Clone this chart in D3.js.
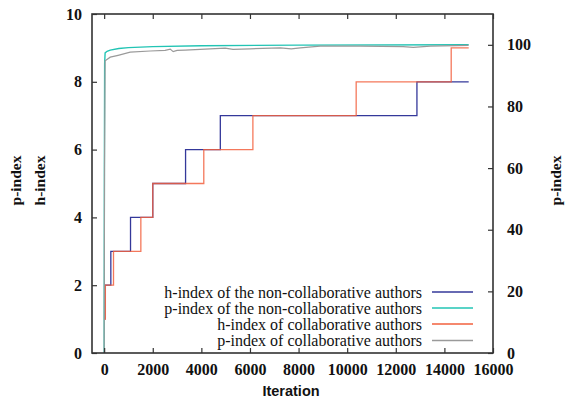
<!DOCTYPE html>
<html>
<head>
<meta charset="utf-8">
<script src="https://cdnjs.cloudflare.com/ajax/libs/d3/7.8.5/d3.min.js"></script>
<style>
  html, body { margin: 0; padding: 0; background: #fff; }
</style>
</head>
<body>
<div id="chart"></div>
<script>
// ### Data ###
var xTicks = [0, 2000, 4000, 6000, 8000, 10000, 12000, 14000, 16000];
var yTicks = [0, 2, 4, 6, 8, 10];
var y2Ticks = [0, 20, 40, 60, 80, 100];

// h-index steps: [iteration, value]
var hNonCollab = [[0, 1], [30, 2], [275, 3], [1085, 4], [2000, 5], [3350, 6], [4780, 7], [12870, 8], [15000, 8]];
var hCollab    = [[0, 1], [50, 2], [385, 3], [1510, 4], [2000, 5], [4100, 6], [6120, 7], [10370, 8], [14280, 9], [15000, 9]];

// p-index curves (right axis)
var pNonCollab = [[0, 0], [10, 60], [20, 94], [40, 97.4], [120, 97.9], [250, 98.3], [600, 98.8], [1000, 99.1],
                  [2000, 99.4], [4000, 99.7], [8000, 99.9], [15000, 100]];
var pCollab    = [[0, 0], [15, 60], [40, 94.8], [250, 96.0], [575, 96.6], [1070, 97.6], [1890, 98.0], [2510, 98.2],
                  [2720, 98.6], [2840, 97.8], [3000, 98.2], [3330, 98.3], [3950, 98.5], [4980, 98.9], [5300, 98.5],
                  [6010, 98.7], [7250, 99.0], [7700, 98.7], [8070, 99.0], [8890, 99.6], [10540, 99.6], [12300, 99.4],
                  [12720, 99.2], [13420, 99.6], [14990, 99.8]];

var legendLabels = [
  "h-index of the non-collaborative authors",
  "p-index of the non-collaborative authors",
  "h-index of collaborative authors",
  "p-index of collaborative authors"
];
var seriesColors = ["#34389a", "#22c4b4", "#f2603e", "#9a9a9a"];

// ### Layout ###
var W = 567, H = 399;
var plot = {left: 92, right: 493, top: 14, bottom: 353};
var serif = "'Liberation Serif', 'Times New Roman', serif";

var svg = d3.select("#chart").append("svg")
    .attr("width", W)
    .attr("height", H);

var x = d3.scaleLinear().domain([-500, 16000]).range([plot.left, plot.right]);
var y = d3.scaleLinear().domain([0, 10]).range([plot.bottom, plot.top]);
var y2 = d3.scaleLinear().domain([0, 110]).range([plot.bottom, plot.top]);

var stepLine = function(scaleY) {
  return d3.line()
    .x(function(d) { return x(d[0]); })
    .y(function(d) { return scaleY(d[1]); })
    .curve(d3.curveStepAfter);
};
var plainLine = function(scaleY) {
  return d3.line()
    .x(function(d) { return x(d[0]); })
    .y(function(d) { return scaleY(d[1]); });
};

// Series
var lines = svg.append("g").attr("class", "series").attr("fill", "none");

lines.append("path").datum(hNonCollab)
    .attr("d", stepLine(y))
    .attr("stroke", seriesColors[0])
    .attr("stroke-width", 1.3);

lines.append("path").datum(pNonCollab)
    .attr("d", plainLine(y2))
    .attr("stroke", seriesColors[1])
    .attr("stroke-width", 1.4);

lines.append("path").datum(hCollab)
    .attr("d", stepLine(y))
    .attr("stroke", seriesColors[2])
    .attr("stroke-width", 1.3)
    .attr("opacity", 0.85);

lines.append("path").datum(pCollab)
    .attr("d", plainLine(y2))
    .attr("stroke", seriesColors[3])
    .attr("stroke-width", 1.2);

// Axes (gnuplot style: ticks inward, mirrored x)
var tickLen = 5;
var axisColor = "#333";

var xBottom = d3.axisBottom(x).tickValues(xTicks).tickSize(-tickLen).tickPadding(11).tickFormat(d3.format("d"));
var xTop = d3.axisTop(x).tickValues(xTicks).tickSize(-tickLen).tickFormat("");
var yLeft = d3.axisLeft(y).tickValues(yTicks).tickSize(-tickLen).tickPadding(10).tickFormat(d3.format("d"));
var yRight = d3.axisRight(y2).tickValues(y2Ticks).tickSize(-tickLen).tickPadding(14).tickFormat(d3.format("d"));

var gx = svg.append("g").attr("transform", "translate(0," + plot.bottom + ")").call(xBottom);
var gxt = svg.append("g").attr("transform", "translate(0," + plot.top + ")").call(xTop);
var gy = svg.append("g").attr("transform", "translate(" + plot.left + ",0)").call(yLeft);
var gy2 = svg.append("g").attr("transform", "translate(" + plot.right + ",0)").call(yRight);

[gx, gxt, gy, gy2].forEach(function(g) {
  g.select(".domain").remove();
  g.selectAll(".tick line").attr("stroke", axisColor).attr("stroke-width", 1.2);
  g.selectAll(".tick text")
    .style("font-family", serif)
    .style("font-size", "16px")
    .style("font-weight", "bold")
    .attr("fill", "#111");
});

// Frame
svg.append("rect")
    .attr("x", plot.left)
    .attr("y", plot.top)
    .attr("width", plot.right - plot.left)
    .attr("height", plot.bottom - plot.top)
    .attr("fill", "none")
    .attr("stroke", axisColor)
    .attr("stroke-width", 1.6);

// Axis titles
var midY = (plot.top + plot.bottom) / 2;
var axisTitle = function(tx, ty, txt) {
  svg.append("text")
      .attr("transform", "translate(" + tx + "," + ty + ") rotate(-90)")
      .attr("text-anchor", "middle")
      .style("font-family", serif)
      .style("font-size", "15.5px")
      .style("font-weight", "bold")
      .attr("fill", "#111")
      .text(txt);
};
axisTitle(21, midY - 3, "p-index");
axisTitle(45, midY - 3, "h-index");
axisTitle(561, midY - 3, "p-index");

svg.append("text")
    .attr("x", 291)
    .attr("y", 396)
    .attr("text-anchor", "middle")
    .style("font-family", "'Liberation Sans', Arial, sans-serif")
    .style("font-size", "14.5px")
    .style("font-weight", "bold")
    .attr("fill", "#111")
    .text("Iteration");

// Legend
var legend = svg.append("g").attr("class", "legend");
var rowY = [292, 308, 324, 340.5];
legendLabels.forEach(function(lbl, i) {
  legend.append("text")
      .attr("x", 422)
      .attr("y", rowY[i] + 5.5)
      .attr("text-anchor", "end")
      .style("font-family", serif)
      .style("font-size", "16px")
      .attr("fill", "#111")
      .text(lbl);
  legend.append("line")
      .attr("x1", 432)
      .attr("x2", 473)
      .attr("y1", rowY[i])
      .attr("y2", rowY[i])
      .attr("stroke", seriesColors[i])
      .attr("stroke-width", i == 1 ? 1.6 : 1.3);
});
</script>
</body>
</html>
